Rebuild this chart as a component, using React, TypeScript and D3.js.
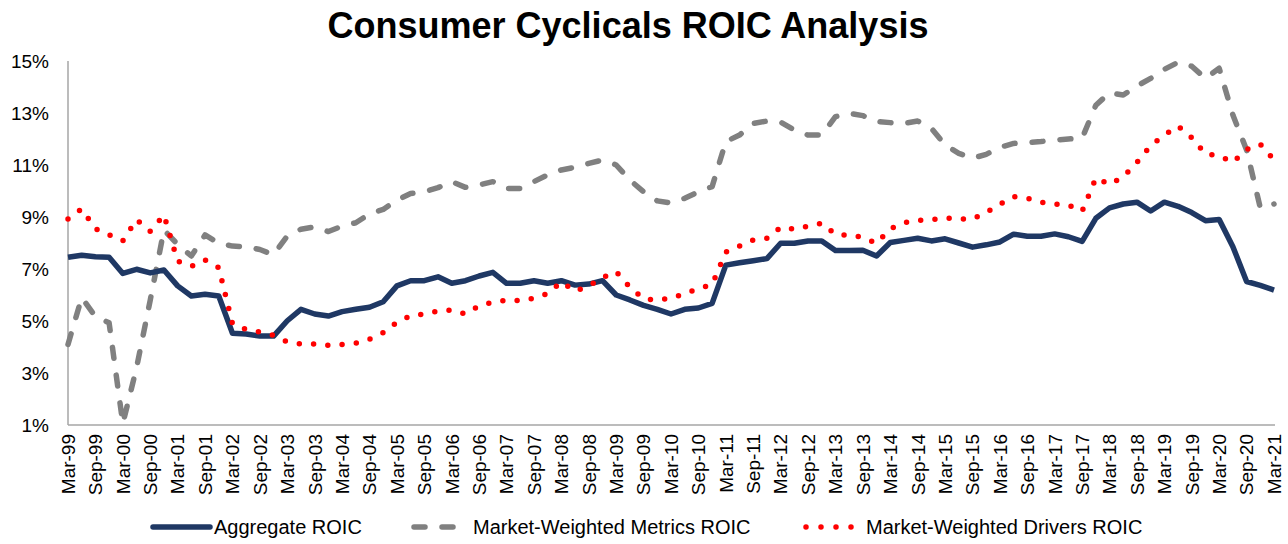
import React from "react";
import * as d3 from "d3";

const quarters = [
  "Mar-99","Jun-99","Sep-99","Dec-99","Mar-00","Jun-00","Sep-00","Dec-00",
  "Mar-01","Jun-01","Sep-01","Dec-01","Mar-02","Jun-02","Sep-02","Dec-02",
  "Mar-03","Jun-03","Sep-03","Dec-03","Mar-04","Jun-04","Sep-04","Dec-04",
  "Mar-05","Jun-05","Sep-05","Dec-05","Mar-06","Jun-06","Sep-06","Dec-06",
  "Mar-07","Jun-07","Sep-07","Dec-07","Mar-08","Jun-08","Sep-08","Dec-08",
  "Mar-09","Jun-09","Sep-09","Dec-09","Mar-10","Jun-10","Sep-10","Dec-10",
  "Mar-11","Jun-11","Sep-11","Dec-11","Mar-12","Jun-12","Sep-12","Dec-12",
  "Mar-13","Jun-13","Sep-13","Dec-13","Mar-14","Jun-14","Sep-14","Dec-14",
  "Mar-15","Jun-15","Sep-15","Dec-15","Mar-16","Jun-16","Sep-16","Dec-16",
  "Mar-17","Jun-17","Sep-17","Dec-17","Mar-18","Jun-18","Sep-18","Dec-18",
  "Mar-19","Jun-19","Sep-19","Dec-19","Mar-20","Jun-20","Sep-20","Dec-20",
  "Mar-21"
];

const aggregateROIC = [
  7.45, 7.53, 7.47, 7.45, 6.83, 6.99, 6.85, 6.96,
  6.35, 5.96, 6.03, 5.96, 4.53, 4.5, 4.42, 4.42,
  5.01, 5.45, 5.27, 5.19, 5.36, 5.45, 5.53, 5.74,
  6.35, 6.55, 6.55, 6.7, 6.45, 6.55, 6.73, 6.87,
  6.45, 6.45, 6.55, 6.45, 6.55, 6.38, 6.42, 6.55,
  6.0, 5.81, 5.6, 5.45, 5.27, 5.45, 5.5, 5.68,
  7.15, 7.24, 7.32, 7.4, 7.99, 7.99, 8.08, 8.08,
  7.71, 7.71, 7.72, 7.5, 8.02, 8.1, 8.18, 8.08,
  8.16, 8.0, 7.84, 7.93, 8.04, 8.34, 8.26, 8.26,
  8.35, 8.24, 8.06, 8.95, 9.35, 9.5, 9.57, 9.23,
  9.57, 9.41, 9.17, 8.86, 8.9, 7.86, 6.52, 6.37,
  6.19
];

const metricsROIC = [
  4.1, 5.9, 5.17, 4.93, 1.05, 3.2, 5.8, 8.5,
  7.95, 7.5, 8.31, 7.99, 7.88, 7.86, 7.75, 7.55,
  8.27, 8.53, 8.62, 8.44, 8.65, 8.78, 9.12, 9.29,
  9.65, 9.9, 9.97, 10.13, 10.36, 10.14, 10.23, 10.36,
  10.1, 10.1, 10.36, 10.62, 10.81, 10.91, 11.06, 11.19,
  11.0, 10.42, 9.97, 9.62, 9.54, 9.72, 9.97, 10.17,
  11.9, 12.15, 12.6, 12.69, 12.65, 12.35, 12.15, 12.15,
  12.86, 12.99, 12.9, 12.67, 12.63, 12.6, 12.69, 12.41,
  11.77, 11.45, 11.26, 11.41, 11.68, 11.83, 11.86, 11.9,
  11.96, 12.0, 12.03, 13.3, 13.78, 13.69, 14.04, 14.33,
  14.68, 14.95, 14.8, 14.33, 14.72, 12.92, 11.58, 9.35,
  9.5
];

const driversROIC = [
  8.92, 9.31, 8.55, 8.31, 8.08, 8.9, 8.45, 9.08,
  7.3, 7.1, 7.35, 7.05, 4.9, 4.68, 4.57, 4.45,
  4.2, 4.12, 4.12, 4.06, 4.1, 4.15, 4.3, 4.55,
  4.95, 5.2, 5.27, 5.38, 5.42, 5.27, 5.58, 5.72,
  5.8, 5.78, 5.88, 6.05, 6.5, 6.15, 6.35, 6.67,
  6.9, 6.3, 5.85, 5.8, 5.88, 6.05, 6.25, 6.4,
  7.65, 7.88, 8.12, 8.18, 8.6, 8.53, 8.65, 8.76,
  8.33, 8.3, 8.22, 7.99, 8.55, 8.78, 8.87, 8.9,
  8.97, 8.92, 8.92, 9.17, 9.49, 9.78, 9.72, 9.57,
  9.5, 9.46, 9.22, 10.5, 10.25, 10.55, 11.1, 11.75,
  12.15, 12.5, 12.05, 11.42, 11.36, 11.1, 11.6, 11.8,
  11.2
];

const yTicks = [1, 3, 5, 7, 9, 11, 13, 15];
const seriesNames = ["Aggregate ROIC", "Market-Weighted Metrics ROIC", "Market-Weighted Drivers ROIC"];

const W = 1288;
const H = 544;
const LEFT = 68;
const RIGHT = 1274;
const TOP = 61;
const BOTTOM = 425;

const NAVY = "#1f3864";
const GRAY = "#808080";
const RED = "#ff0000";
const AXIS = "#a6a6a6";
const FONT = "'Liberation Sans', Arial, sans-serif";

export default function App() {
  const x = d3.scalePoint<string>().domain(quarters).range([LEFT, RIGHT]);
  const y = d3.scaleLinear().domain([1, 15]).range([BOTTOM, TOP]);

  const mk = (vals: number[]) =>
    d3
      .line<number>()
      .x((_, i) => x(quarters[i]) as number)
      .y((v) => y(v))(vals) as string;

  const labelQuarters = quarters.filter((_, i) => i % 2 === 0);

  const legendY = 527;

  return (
    <svg
      width={W}
      height={H}
      style={{ position: "absolute", left: 0, top: 0, background: "#fff" }}
      fontFamily={FONT}
    >
      <rect x={0} y={0} width={W} height={H} fill="#fff" />
      <text x={628} y={38} textAnchor="middle" fontSize={36} fontWeight="bold" fill="#000">
        Consumer Cyclicals ROIC Analysis
      </text>

      {/* axes */}
      <line x1={LEFT} x2={LEFT} y1={TOP} y2={BOTTOM} stroke={AXIS} strokeWidth={1.5} />
      <line x1={LEFT} x2={RIGHT + 1} y1={BOTTOM} y2={BOTTOM} stroke={AXIS} strokeWidth={1.5} />

      {yTicks.map((t) => (
        <text key={t} x={49} y={y(t)} dy="0.36em" textAnchor="end" fontSize={19} fill="#000">
          {t}%
        </text>
      ))}

      {labelQuarters.map((q) => (
        <text
          key={q}
          transform={`translate(${x(q)},${BOTTOM + 9}) rotate(-90)`}
          textAnchor="end"
          dy="0.36em"
          fontSize={19}
          fill="#000"
        >
          {q}
        </text>
      ))}

      {/* series */}
      <path d={mk(metricsROIC)} fill="none" stroke={GRAY} strokeWidth={5.5} strokeDasharray="11 17" strokeLinecap="round" strokeLinejoin="round" />
      <path d={mk(aggregateROIC)} fill="none" stroke={NAVY} strokeWidth={5.5} strokeLinejoin="round" />
      <path d={mk(driversROIC)} fill="none" stroke={RED} strokeWidth={5.5} strokeDasharray="0 14.3" strokeLinecap="round" />

      {/* legend */}
      <line x1={153} x2={210} y1={legendY} y2={legendY} stroke={NAVY} strokeWidth={5.5} strokeLinecap="round" />
      <text x={214} y={legendY} dy="0.36em" fontSize={20} fill="#000">{seriesNames[0]}</text>

      <line x1={414} x2={458} y1={legendY} y2={legendY} stroke={GRAY} strokeWidth={5.5} strokeDasharray="11 17" strokeLinecap="round" />
      <text x={473} y={legendY} dy="0.36em" fontSize={20} fill="#000">{seriesNames[1]}</text>

      <line x1={806} x2={856} y1={legendY} y2={legendY} stroke={RED} strokeWidth={5.5} strokeDasharray="0 15" strokeLinecap="round" />
      <text x={866} y={legendY} dy="0.36em" fontSize={20} fill="#000">{seriesNames[2]}</text>
    </svg>
  );
}
